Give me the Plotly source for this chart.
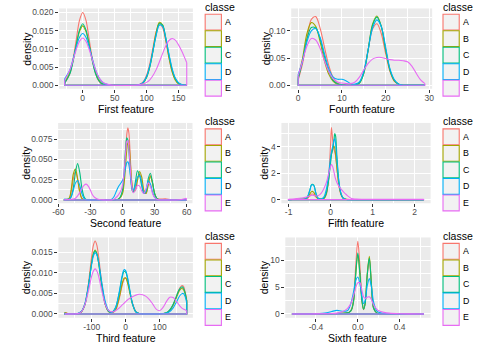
import plotly.graph_objects as go

FONT = "Liberation Sans, Arial, sans-serif"
W, H = 487, 352
CLASSES = ["A", "B", "C", "D", "E"]
COLORS = ["#F8766D", "#A3A500", "#00BF7D", "#00B0F6", "#E76BF3"]

# ---------------- First feature ----------------
first_x = [-28.3, -20, -15, -10, -5, 0, 5, 10, 15, 20, 25, 30, 35, 45, 60, 75, 85, 90, 95, 100,
           105, 110, 115, 120, 125, 130, 135, 140, 145, 150, 155, 162.9]
first_A = [0.0005, 0.0033, 0.0072, 0.0127, 0.0179, 0.0200, 0.0179, 0.0127, 0.0072, 0.0033, 0.0012, 0.0003,
           0.0001, 0, 0, 0, 0.0001, 0.0003, 0.0010, 0.0028, 0.0059, 0.0103, 0.0147, 0.0169, 0.0159, 0.0122,
           0.0076, 0.0038, 0.0016, 0.0005, 0.0001, 0]
first_B = [0.0008, 0.0036, 0.0070, 0.0112, 0.0148, 0.0163, 0.0148, 0.0112, 0.0070, 0.0036, 0.0015, 0.0005,
           0.0002, 0, 0, 0, 0, 0.0002, 0.0007, 0.0022, 0.0051, 0.0096, 0.0145, 0.0173, 0.0166, 0.0126,
           0.0077, 0.0037, 0.0014, 0.0004, 0.0001, 0]
first_C = [0.0006, 0.0032, 0.0067, 0.0112, 0.0152, 0.0169, 0.0152, 0.0112, 0.0067, 0.0032, 0.0013, 0.0004,
           0.0001, 0, 0, 0, 0, 0.0002, 0.0008, 0.0022, 0.0050, 0.0093, 0.0139, 0.0169, 0.0165, 0.0131,
           0.0083, 0.0043, 0.0018, 0.0006, 0.0002, 0]
first_D = [0.0018, 0.0043, 0.0073, 0.0106, 0.0132, 0.0142, 0.0132, 0.0106, 0.0073, 0.0043, 0.0022, 0.0010,
           0.0004, 0, 0, 0, 0.0001, 0.0003, 0.0009, 0.0024, 0.0053, 0.0095, 0.0138, 0.0165, 0.0162, 0.0130,
           0.0086, 0.0046, 0.0020, 0.0007, 0.0002, 0]
first_E = [0.0014, 0.0043, 0.0070, 0.0099, 0.0121, 0.0130, 0.0121, 0.0099, 0.0070, 0.0043, 0.0023, 0.0011,
           0.0005, 0.0001, 0, 0, 0.0001, 0.0002, 0.0004, 0.0008, 0.0015, 0.0027, 0.0043, 0.0064, 0.0087,
           0.0108, 0.0123, 0.0128, 0.0124, 0.0111, 0.0094, 0.0062]
first_xticks = [0, 50, 100, 150]
first_xlabels = ["0", "50", "100", "150"]
first_yticks = [0, 0.005, 0.010, 0.015, 0.020]
first_ylabels = ["0.000", "0.005", "0.010", "0.015", "0.020"]

# ---------------- Fourth feature ----------------
fourth_x = [0, 1, 2, 3, 4, 5, 6, 7, 8, 9, 10, 11, 12, 13, 14, 15, 16, 17, 18, 19, 20, 21, 22, 23, 24,
            25, 26, 27, 28, 29]
fourth_A = [0.010, 0.040, 0.085, 0.121, 0.126, 0.105, 0.070, 0.036, 0.014, 0.004, 0.001, 0, 0, 0.001,
            0.005, 0.025, 0.065, 0.103, 0.113, 0.095, 0.058, 0.025, 0.007, 0.002, 0, 0, 0, 0, 0, 0]
fourth_B = [0.015, 0.050, 0.095, 0.115, 0.108, 0.080, 0.045, 0.020, 0.007, 0.002, 0.001, 0, 0, 0.001,
            0.004, 0.022, 0.065, 0.112, 0.127, 0.108, 0.065, 0.027, 0.008, 0.002, 0, 0, 0, 0, 0, 0]
fourth_C = [0.012, 0.045, 0.085, 0.106, 0.105, 0.085, 0.053, 0.025, 0.009, 0.003, 0.001, 0, 0, 0.001,
            0.004, 0.022, 0.065, 0.110, 0.125, 0.108, 0.066, 0.028, 0.009, 0.002, 0, 0, 0, 0, 0, 0]
fourth_D = [0.020, 0.045, 0.080, 0.100, 0.104, 0.088, 0.058, 0.030, 0.015, 0.011, 0.011, 0.008, 0.003,
            0.002, 0.006, 0.025, 0.065, 0.105, 0.120, 0.108, 0.070, 0.030, 0.010, 0.002, 0, 0, 0, 0, 0, 0]
fourth_E = [0.018, 0.045, 0.072, 0.086, 0.083, 0.068, 0.045, 0.025, 0.012, 0.006, 0.004, 0.003, 0.003,
            0.006, 0.015, 0.028, 0.040, 0.048, 0.051, 0.051, 0.049, 0.047, 0.046, 0.046, 0.045, 0.043,
            0.035, 0.022, 0.010, 0.003]
fourth_xticks = [0, 10, 20, 30]
fourth_xlabels = ["0", "10", "20", "30"]
fourth_yticks = [0, 0.05, 0.10]
fourth_ylabels = ["0.00", "0.05", "0.10"]

# ---------------- Second feature ----------------
second_x = [-54.5, -50, -48, -46, -44, -42, -40, -38, -36, -34, -32, -30, -28, -26, -22, -16, -10, -8,
            -6, -4, -2, 0, 1, 2, 3, 4, 5, 6, 7, 8, 9, 10, 12, 14, 16, 18, 20, 22, 24, 26, 28, 30, 32,
            35, 40, 45, 50, 55, 59.7]
second_A = [0.0005, 0.001, 0.010, 0.026, 0.035, 0.026, 0.010, 0.002, 0.0003, 0, 0, 0, 0, 0, 0, 0, 0, 0,
            0.0005, 0.001, 0.003, 0.010, 0.020, 0.037, 0.060, 0.081, 0.089, 0.082, 0.060, 0.034, 0.017,
            0.010, 0.014, 0.027, 0.032, 0.022, 0.010, 0.008, 0.020, 0.030, 0.021, 0.007, 0.002, 0.001,
            0.0015, 0.0003, 0, 0, 0]
second_B = [0.0005, 0.002, 0.013, 0.032, 0.038, 0.026, 0.010, 0.002, 0.0003, 0, 0, 0, 0, 0, 0, 0, 0, 0,
            0.0005, 0.001, 0.003, 0.008, 0.015, 0.027, 0.045, 0.062, 0.0706, 0.068, 0.052, 0.032, 0.017,
            0.010, 0.012, 0.024, 0.035, 0.028, 0.012, 0.008, 0.018, 0.029, 0.021, 0.008, 0.002, 0.0003,
            0, 0, 0, 0, 0]
second_C = [0.0003, 0.0005, 0.004, 0.015, 0.034, 0.045, 0.034, 0.015, 0.004, 0.0005, 0, 0, 0, 0, 0, 0,
            0, 0, 0.0005, 0.001, 0.004, 0.012, 0.025, 0.045, 0.066, 0.0767, 0.074, 0.060, 0.040, 0.022,
            0.012, 0.010, 0.022, 0.036, 0.030, 0.017, 0.008, 0.010, 0.026, 0.033, 0.022, 0.008, 0.002,
            0.0003, 0, 0, 0, 0, 0]
second_D = [0.001, 0.001, 0.004, 0.012, 0.021, 0.024, 0.018, 0.008, 0.002, 0.0003, 0, 0, 0, 0, 0, 0,
            0.001, 0.004, 0.010, 0.016, 0.020, 0.024, 0.028, 0.034, 0.041, 0.046, 0.047, 0.043, 0.034,
            0.022, 0.014, 0.012, 0.018, 0.028, 0.030, 0.020, 0.008, 0.012, 0.0237, 0.020, 0.010, 0.003,
            0.001, 0, 0, 0, 0, 0, 0]
second_E = [0.0003, 0.0005, 0.0008, 0.001, 0.002, 0.005, 0.009, 0.014, 0.018, 0.0195, 0.017, 0.012,
            0.006, 0.003, 0.0005, 0, 0, 0.001, 0.003, 0.006, 0.010, 0.018, 0.028, 0.043, 0.060, 0.072,
            0.073, 0.062, 0.044, 0.026, 0.014, 0.009, 0.012, 0.018, 0.017, 0.011, 0.008, 0.014, 0.021,
            0.017, 0.008, 0.003, 0.001, 0, 0, 0, 0, 0.0005, 0.002]
second_xticks = [-60, -30, 0, 30, 60]
second_xlabels = ["-60", "-30", "0", "30", "60"]
second_yticks = [0, 0.025, 0.050, 0.075]
second_ylabels = ["0.000", "0.025", "0.050", "0.075"]

# ---------------- Fifth feature ----------------
fifth_x = [-1.01, -0.9, -0.8, -0.7, -0.6, -0.55, -0.5, -0.45, -0.4, -0.35, -0.3, -0.25, -0.2, -0.15,
           -0.1, -0.05, 0.0, 0.02, 0.05, 0.08, 0.1, 0.12, 0.15, 0.2, 0.25, 0.3, 0.35, 0.4, 0.5, 0.6,
           0.8, 1.0, 1.2, 1.5, 1.8, 2.0, 2.22]
fifth_A = [0, 0.01, 0.02, 0.03, 0.05, 0.1, 0.25, 0.42, 0.4, 0.2, 0.08, 0.05, 0.05, 0.1, 0.4, 1.5, 4.2,
           5.45, 4.5, 3.8, 3.6, 3.3, 2.4, 1.0, 0.35, 0.12, 0.05, 0.02, 0.01, 0, 0, 0, 0, 0, 0, 0, 0]
fifth_B = [0, 0.01, 0.02, 0.03, 0.06, 0.15, 0.4, 0.62, 0.55, 0.25, 0.08, 0.04, 0.05, 0.12, 0.5, 1.5, 3.0,
           3.4, 3.9, 4.05, 3.9, 3.4, 2.4, 1.1, 0.4, 0.12, 0.04, 0.01, 0, 0, 0, 0, 0, 0, 0, 0, 0]
fifth_C = [0, 0.005, 0.01, 0.02, 0.05, 0.2, 0.65, 1.15, 1.1, 0.5, 0.12, 0.04, 0.05, 0.15, 0.5, 1.4, 2.8,
           3.4, 3.8, 4.5, 5.0, 4.8, 3.3, 1.3, 0.4, 0.1, 0.03, 0, 0, 0, 0, 0, 0, 0, 0, 0, 0]
fifth_D = [0, 0.005, 0.01, 0.02, 0.05, 0.2, 0.65, 1.12, 1.05, 0.45, 0.12, 0.05, 0.08, 0.25, 0.8, 1.8,
           3.2, 3.6, 4.0, 4.5, 4.6, 4.2, 3.0, 1.3, 0.45, 0.12, 0.03, 0, 0, 0, 0, 0, 0, 0, 0, 0, 0]
fifth_E = [0.03, 0.05, 0.08, 0.12, 0.17, 0.22, 0.28, 0.33, 0.32, 0.28, 0.3, 0.4, 0.6, 0.9, 1.3, 1.9, 2.5,
           2.68, 2.5, 2.1, 1.8, 1.55, 1.3, 1.0, 0.8, 0.6, 0.45, 0.3, 0.08, 0.04, 0.03, 0.02, 0.02, 0.02,
           0.02, 0.02, 0.02]
fifth_xticks = [-1, 0, 1, 2]
fifth_xlabels = ["-1", "0", "1", "2"]
fifth_yticks = [0, 2, 4]
fifth_ylabels = ["0", "2", "4"]

# ---------------- Third feature ----------------
third_x = [-180, -175, -170, -160, -150, -140, -130, -120, -110, -100, -95, -90, -85, -80, -70, -60,
           -50, -40, -30, -20, -10, -5, 0, 5, 10, 20, 30, 40, 50, 60, 70, 80, 90, 100, 110, 120, 130,
           140, 150, 155, 160, 165, 170, 175, 180]
third_A = [0.0003, 0.0003, 0.0001, 0, 0, 0, 0.0005, 0.0024, 0.0073, 0.0142, 0.0168, 0.0178, 0.0168,
           0.0142, 0.0073, 0.0024, 0.0005, 0.0003, 0.0009, 0.0034, 0.0071, 0.0084, 0.0088, 0.0080,
           0.0063, 0.0027, 0.0006, 0.0001, 0, 0, 0, 0, 0, 0, 0.0001, 0.0002, 0.0008, 0.0022, 0.0044,
           0.0055, 0.0064, 0.0069, 0.0068, 0.0055, 0.0035]
third_B = [0.0003, 0.0002, 0.0001, 0, 0, 0.0001, 0.0006, 0.0023, 0.0067, 0.0127, 0.0148, 0.0156, 0.0148,
           0.0127, 0.0067, 0.0023, 0.0006, 0.0003, 0.0010, 0.0037, 0.0075, 0.0087, 0.0088, 0.0078,
           0.0060, 0.0024, 0.0005, 0.0001, 0, 0, 0, 0, 0, 0, 0.0001, 0.0003, 0.0009, 0.0022, 0.0041,
           0.0051, 0.0059, 0.0062, 0.0060, 0.0050, 0.0032]
third_C = [0.0002, 0.0001, 0, 0, 0, 0.0001, 0.0006, 0.0023, 0.0067, 0.0125, 0.0146, 0.0154, 0.0146,
           0.0125, 0.0067, 0.0023, 0.0006, 0.0004, 0.0015, 0.0047, 0.0091, 0.0104, 0.0102, 0.0088,
           0.0066, 0.0025, 0.0005, 0.0001, 0, 0, 0, 0, 0, 0, 0.0001, 0.0003, 0.0010, 0.0024, 0.0044,
           0.0055, 0.0062, 0.0066, 0.0064, 0.0052, 0.0032]
third_D = [0.0001, 0.0001, 0, 0, 0, 0.0002, 0.0007, 0.0026, 0.0068, 0.0122, 0.0142, 0.0149, 0.0145,
           0.0128, 0.0075, 0.0030, 0.0008, 0.0004, 0.0015, 0.0049, 0.0095, 0.0108, 0.0106, 0.0091,
           0.0069, 0.0026, 0.0005, 0.0001, 0, 0, 0, 0, 0, 0, 0.0001, 0.0002, 0.0006, 0.0015, 0.0030,
           0.0038, 0.0045, 0.0049, 0.0050, 0.0043, 0.0027]
third_E = [0, 0, 0, 0, 0, 0.0001, 0.0006, 0.0023, 0.0055, 0.0093, 0.0105, 0.0110, 0.0105, 0.0093, 0.0055,
           0.0023, 0.0008, 0.0005, 0.0008, 0.0014, 0.0022, 0.0026, 0.0030, 0.0034, 0.0037, 0.0042,
           0.0046, 0.0048, 0.0047, 0.0043, 0.0035, 0.0024, 0.0012, 0.0008, 0.0016, 0.0030, 0.0041,
           0.0040, 0.0030, 0.0025, 0.0019, 0.0015, 0.0012, 0.0010, 0.0008]
third_xticks = [-100, 0, 100]
third_xlabels = ["-100", "0", "100"]
third_yticks = [0, 0.005, 0.010, 0.015]
third_ylabels = ["0.000", "0.005", "0.010", "0.015"]

# ---------------- Sixth feature ----------------
sixth_x = [-0.63, -0.5, -0.4, -0.3, -0.25, -0.2, -0.15, -0.1, -0.08, -0.06, -0.04, -0.02, 0.0, 0.02,
           0.04, 0.055, 0.07, 0.09, 0.11, 0.13, 0.15, 0.18, 0.2, 0.25, 0.3, 0.4, 0.5, 0.633]
sixth_A = [0, 0, 0.01, 0.03, 0.06, 0.1, 0.12, 0.2, 0.4, 0.9, 2.8, 8.9, 13.5, 8.9, 2.7, 0.8, 1.9, 7.0,
           10.2, 5.3, 1.1, 0.2, 0.1, 0.05, 0.02, 0, 0, 0]
sixth_B = [0, 0, 0.01, 0.03, 0.06, 0.1, 0.12, 0.2, 0.35, 0.8, 2.4, 7.3, 11.0, 7.3, 2.3, 0.9, 2.0, 7.4,
           10.7, 5.6, 1.2, 0.2, 0.1, 0.05, 0.02, 0, 0, 0]
sixth_C = [0, 0, 0.01, 0.03, 0.06, 0.1, 0.12, 0.2, 0.35, 0.8, 2.5, 7.5, 11.35, 7.5, 2.4, 0.9, 1.9, 7.2,
           10.4, 5.4, 1.1, 0.2, 0.1, 0.05, 0.02, 0, 0, 0]
sixth_D = [0, 0.01, 0.05, 0.2, 0.45, 0.67, 0.5, 0.6, 1.2, 2.4, 4.2, 6.2, 6.87, 5.6, 3.2, 1.9, 2.5, 5.2,
           6.56, 5.0, 2.3, 0.6, 0.3, 0.1, 0.05, 0.01, 0, 0]
sixth_E = [0, 0, 0.02, 0.05, 0.08, 0.15, 0.4, 1.0, 1.5, 2.3, 3.5, 4.9, 5.8, 5.8, 4.3, 3.2, 2.9, 3.1, 3.2,
           2.7, 1.7, 0.9, 0.6, 0.3, 0.15, 0.05, 0.02, 0]
sixth_xticks = [-0.4, 0.0, 0.4]
sixth_xlabels = ["-0.4", "0.0", "0.4"]
sixth_yticks = [0, 5, 10]
sixth_ylabels = ["0", "5", "10"]

# ---------------- layout of panels (pixel boxes, ranges, minor grids) ----------------
PANELS = [
    dict(title="First feature", x=first_x, ys=[first_A, first_B, first_C, first_D, first_E],
         bx=(54, 190), by=(7.5, 88.5), xr=[-37, 172.5], yr=[-0.00095, 0.0211],
         xt=first_xticks, xl=first_xlabels, xm=[-25, 25, 75, 125],
         yt=first_yticks, yl=first_ylabels, ym=[0.0025, 0.0075, 0.0125, 0.0175],
         leg=(202.5, 0), ytx=20.5),
    dict(title="Fourth feature", x=fourth_x, ys=[fourth_A, fourth_B, fourth_C, fourth_D, fourth_E],
         bx=(290, 433.3), by=(7.5, 88.5), xr=[-1.6, 30.65], yr=[-0.0064, 0.141],
         xt=fourth_xticks, xl=fourth_xlabels, xm=[5, 15, 25],
         yt=fourth_yticks, yl=fourth_ylabels, ym=[0.025, 0.075, 0.125],
         leg=(444.3, 0), ytx=264),
    dict(title="Second feature", x=second_x, ys=[second_A, second_B, second_C, second_D, second_E],
         bx=(53, 189.6), by=(123, 204), xr=[-60.2, 65.4], yr=[-0.0041, 0.095],
         xt=second_xticks, xl=second_xlabels, xm=[-45, -15, 15, 45],
         yt=second_yticks, yl=second_ylabels, ym=[0.0125, 0.0375, 0.0625, 0.0875],
         leg=(202.5, 1), ytx=20),
    dict(title="Fifth feature", x=fifth_x, ys=[fifth_A, fifth_B, fifth_C, fifth_D, fifth_E],
         bx=(280, 431.7), by=(123, 204), xr=[-1.172, 2.383], yr=[-0.275, 5.8],
         xt=fifth_xticks, xl=fifth_xlabels, xm=[-0.5, 0.5, 1.5],
         yt=fifth_yticks, yl=fifth_ylabels, ym=[1, 3, 5],
         leg=(444.3, 1), ytx=262),
    dict(title="Third feature", x=third_x, ys=[third_A, third_B, third_C, third_D, third_E],
         bx=(53.3, 190), by=(238.5, 319.5), xr=[-198.2, 198.1], yr=[-0.00093, 0.01867],
         xt=third_xticks, xl=third_xlabels, xm=[-150, -50, 50, 150],
         yt=third_yticks, yl=third_ylabels, ym=[0.0025, 0.0075, 0.0125],
         leg=(202.5, 2), ytx=20),
    dict(title="Sixth feature", x=sixth_x, ys=[sixth_A, sixth_B, sixth_C, sixth_D, sixth_E],
         bx=(284, 431.7), by=(238.5, 319.5), xr=[-0.693, 0.696], yr=[-0.705, 14.2],
         xt=sixth_xticks, xl=sixth_xlabels, xm=[-0.6, -0.2, 0.2, 0.6],
         yt=sixth_yticks, yl=sixth_ylabels, ym=[2.5, 7.5, 12.5],
         leg=(444.3, 2), ytx=262),
]

XTITLE_Y = [109.0, 224.2, 339.7]
LEG_TITLE_Y = [6.0, 121.2, 236.7]
LEG_TOP = [13.3, 129.0, 244.5]
KEY_STEP = 16.67
KEY_W = 16.5
KEY_H = 16.0
LW = 1.1

fig = go.Figure()
shapes = []
annotations = []
layout_axes = {}

tickfont = dict(family=FONT, size=8.5, color="#4D4D4D")
titlefont = dict(family=FONT, size=10.5, color="black")

for i, p in enumerate(PANELS, start=1):
    xa = "x" if i == 1 else f"x{i}"
    ya = "y" if i == 1 else f"y{i}"
    xs = p["x"]
    for col, ys in zip(COLORS, p["ys"]):
        fig.add_trace(go.Scatter(x=xs, y=ys, mode="lines", xaxis=xa, yaxis=ya,
                                 line=dict(color=col, width=LW, shape="spline", smoothing=0.9),
                                 showlegend=False, hoverinfo="skip"))
        fig.add_trace(go.Scatter(x=[xs[-1], xs[-1], xs[0], xs[0]], y=[ys[-1], 0, 0, ys[0]],
                                 mode="lines", xaxis=xa, yaxis=ya,
                                 line=dict(color=col, width=LW),
                                 showlegend=False, hoverinfo="skip"))
    common = dict(showgrid=True, gridcolor="white", gridwidth=1.1, zeroline=False, showline=False,
                  ticks="outside", ticklen=3, tickwidth=1, tickcolor="#333333",
                  tickfont=tickfont, tickmode="array", fixedrange=True)
    xname = "xaxis" if i == 1 else f"xaxis{i}"
    yname = "yaxis" if i == 1 else f"yaxis{i}"
    layout_axes[xname] = dict(
        domain=[p["bx"][0] / W, p["bx"][1] / W], range=p["xr"], anchor=ya,
        tickvals=p["xt"], ticktext=p["xl"], ticklabelstandoff=-2,
        minor=dict(tickmode="array", tickvals=p["xm"], showgrid=True, gridcolor="white",
                   gridwidth=0.5, ticks=""), **common)
    layout_axes[yname] = dict(
        domain=[1 - p["by"][1] / H, 1 - p["by"][0] / H], range=p["yr"], anchor=xa,
        tickvals=p["yt"], ticktext=p["yl"],
        minor=dict(tickmode="array", tickvals=p["ym"], showgrid=True, gridcolor="white",
                   gridwidth=0.5, ticks=""), **common)

    lx, row = p["leg"]
    # axis titles
    annotations.append(dict(text=p["title"], x=(p["bx"][0] + p["bx"][1]) / 2 / W,
                            y=1 - XTITLE_Y[row] / H, xref="paper", yref="paper",
                            xanchor="center", yanchor="middle", showarrow=False, font=titlefont))
    annotations.append(dict(text="density", x=p["ytx"] / W,
                            y=1 - (p["by"][0] + p["by"][1]) / 2 / H, xref="paper", yref="paper",
                            xanchor="center", yanchor="middle", textangle=-90,
                            showarrow=False, font=titlefont))
    # legend for this panel
    annotations.append(dict(text="classe", x=(lx - 2) / W, y=1 - LEG_TITLE_Y[row] / H,
                            xref="paper", yref="paper", xanchor="left", yanchor="middle",
                            showarrow=False, font=titlefont))
    for k, (cls, col) in enumerate(zip(CLASSES, COLORS)):
        top = LEG_TOP[row] + k * KEY_STEP
        shapes.append(dict(type="rect", xref="paper", yref="paper",
                           x0=lx / W, x1=(lx + KEY_W) / W,
                           y0=1 - (top + KEY_H) / H, y1=1 - top / H,
                           line=dict(color=col, width=LW), fillcolor="#F2F2F2", layer="above"))
        annotations.append(dict(text=cls, x=(lx + KEY_W + 1.5) / W, y=1 - (top + KEY_H / 2) / H,
                                xref="paper", yref="paper", xanchor="left", yanchor="middle",
                                showarrow=False, font=dict(family=FONT, size=8.8, color="black")))

fig.update_layout(
    width=W, height=H, margin=dict(l=0, r=0, t=0, b=0),
    paper_bgcolor="white", plot_bgcolor="#EBEBEB",
    showlegend=False, shapes=shapes, annotations=annotations,
    font=dict(family=FONT), **layout_axes)

fig.write_html("out.html")
